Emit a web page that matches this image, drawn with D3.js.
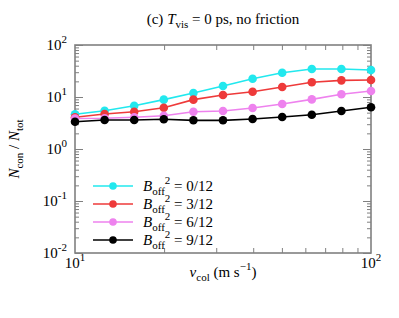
<!DOCTYPE html>
<html><head><meta charset="utf-8">
<script src="https://cdn.jsdelivr.net/npm/d3@7"></script>
<style>body{margin:0;background:#fff}svg{display:block}</style>
</head><body><svg id="c" width="399" height="318" font-family="'Liberation Serif','Times New Roman','DejaVu Serif',serif"></svg>
<script>
const vcol = [10, 12.59, 15.85, 19.95, 25.12, 31.62, 39.81, 50.12, 63.1, 79.43, 100];
const seriesLabels = ["0/12", "3/12", "6/12", "9/12"];
const seriesColors = ["#22e8ee", "#ee3a3a", "#ee82ee", "#000000"];
const b0 = [4.65, 5.45, 6.8, 8.9, 11.9, 16.3, 22.5, 29.3, 34.6, 34.6, 33.0];
const b3 = [4.07, 4.71, 5.22, 6.22, 8.9, 10.9, 12.6, 15.6, 19.2, 20.9, 21.2];
const b6 = [3.85, 3.9, 4.07, 4.37, 5.22, 5.38, 6.14, 7.33, 9.0, 11.3, 13.0];
const b9 = [3.35, 3.61, 3.61, 3.73, 3.56, 3.56, 3.78, 4.12, 4.57, 5.38, 6.34];
const series = [b0, b3, b6, b9];
const xMajor = [10, 100];
const yMajor = [0.01, 0.1, 1, 10, 100];
const xExp = [1, 2];
const yExp = [-2, -1, 0, 1, 2];

const svg = d3.select("#c");
const L = 75, R = 371, T = 45, B = 253;
const x = d3.scaleLog().domain([10, 100]).range([L, R]);
const y = d3.scaleLog().domain([0.01, 100]).range([B, T]);

const axisColor = "#808080";
const xMinor = d3.range(2, 10).map(d => d * 10);
const yMinor = [];
[0.01, 0.1, 1, 10].forEach(p => { for (let k = 2; k < 10; k++) yMinor.push(p * k); });

function styleAxis(g) {
  g.select(".domain").remove();
  g.selectAll("line").attr("stroke", axisColor).attr("stroke-width", 1);
  g.selectAll("text").remove();
}
svg.append("g").attr("transform", `translate(0,${B})`).call(d3.axisBottom(x).tickValues(xMinor).tickSizeInner(-5).tickSizeOuter(0)).call(styleAxis);
svg.append("g").attr("transform", `translate(0,${T})`).call(d3.axisTop(x).tickValues(xMinor).tickSizeInner(-5).tickSizeOuter(0)).call(styleAxis);
svg.append("g").attr("transform", `translate(${L},0)`).call(d3.axisLeft(y).tickValues(yMinor).tickSizeInner(-4).tickSizeOuter(0)).call(styleAxis);
svg.append("g").attr("transform", `translate(${R},0)`).call(d3.axisRight(y).tickValues(yMinor).tickSizeInner(-4).tickSizeOuter(0)).call(styleAxis);
svg.append("g").attr("transform", `translate(${L},0)`).call(d3.axisLeft(y).tickValues(yMajor).tickSizeInner(-8).tickSizeOuter(0)).call(styleAxis);
svg.append("g").attr("transform", `translate(${R},0)`).call(d3.axisRight(y).tickValues(yMajor).tickSizeInner(-8).tickSizeOuter(0)).call(styleAxis);

svg.append("rect").attr("x", L).attr("y", T).attr("width", R - L).attr("height", B - T)
  .attr("fill", "none").attr("stroke", axisColor).attr("stroke-width", 1.6);

yMajor.forEach((v, i) => {
  const t = svg.append("text").attr("x", L - 8).attr("y", y(v) + 5).attr("text-anchor", "end").attr("font-size", 15);
  t.append("tspan").text("10");
  t.append("tspan").attr("dy", -7).attr("font-size", 11).text(yExp[i]);
});
xMajor.forEach((v, i) => {
  const t = svg.append("text").attr("x", x(v)).attr("y", B + 15).attr("text-anchor", "middle").attr("font-size", 15);
  t.append("tspan").text("10");
  t.append("tspan").attr("dy", -7).attr("font-size", 11).text(xExp[i]);
});

const line = d3.line().x((d, i) => x(vcol[i])).y(d => y(d));
series.forEach((s, k) => {
  svg.append("path").datum(s).attr("d", line).attr("fill", "none")
    .attr("stroke", seriesColors[k]).attr("stroke-width", 1.6);
  svg.append("g").selectAll("circle").data(s).join("circle")
    .attr("cx", (d, i) => x(vcol[i])).attr("cy", d => y(d)).attr("r", 4.3)
    .attr("fill", seriesColors[k]);
});

seriesLabels.forEach((lab, k) => {
  const yy = 186 + k * 18;
  svg.append("line").attr("x1", 93).attr("x2", 133).attr("y1", yy).attr("y2", yy)
    .attr("stroke", seriesColors[k]).attr("stroke-width", 1.6);
  svg.append("circle").attr("cx", 113).attr("cy", yy).attr("r", 3.8).attr("fill", seriesColors[k]);
  const t = svg.append("text").attr("x", 143).attr("y", yy + 5).attr("font-size", 15);
  t.append("tspan").attr("font-style", "italic").text("B");
  t.append("tspan").attr("dy", 4).attr("font-size", 11).text("off");
  t.append("tspan").attr("dy", -11).attr("font-size", 11).text("2");
  t.append("tspan").attr("dy", 7).text(" = " + lab);
});

const title = svg.append("text").attr("x", 223).attr("y", 24).attr("text-anchor", "middle").attr("font-size", 15);
title.append("tspan").text("(c) ");
title.append("tspan").attr("font-style", "italic").text("T");
title.append("tspan").attr("dy", 4).attr("font-size", 11).text("vis");
title.append("tspan").attr("dy", -4).text(" = 0 ps, no friction");

const xl = svg.append("text").attr("x", 223).attr("y", 277).attr("text-anchor", "middle").attr("font-size", 15);
xl.append("tspan").attr("font-style", "italic").text("v");
xl.append("tspan").attr("dy", 4).attr("font-size", 11).text("col");
xl.append("tspan").attr("dy", -4).text(" (m s");
xl.append("tspan").attr("dy", -7).attr("font-size", 11).text("−1");
xl.append("tspan").attr("dy", 7).text(")");

const yl = svg.append("text").attr("transform", `translate(19,${(T + B) / 2}) rotate(-90)`).attr("text-anchor", "middle").attr("font-size", 15);
yl.append("tspan").attr("font-style", "italic").text("N");
yl.append("tspan").attr("dy", 4).attr("font-size", 11).text("con");
yl.append("tspan").attr("dy", -4).text(" / ");
yl.append("tspan").attr("font-style", "italic").text("N");
yl.append("tspan").attr("dy", 4).attr("font-size", 11).text("tot");
</script></body></html>
